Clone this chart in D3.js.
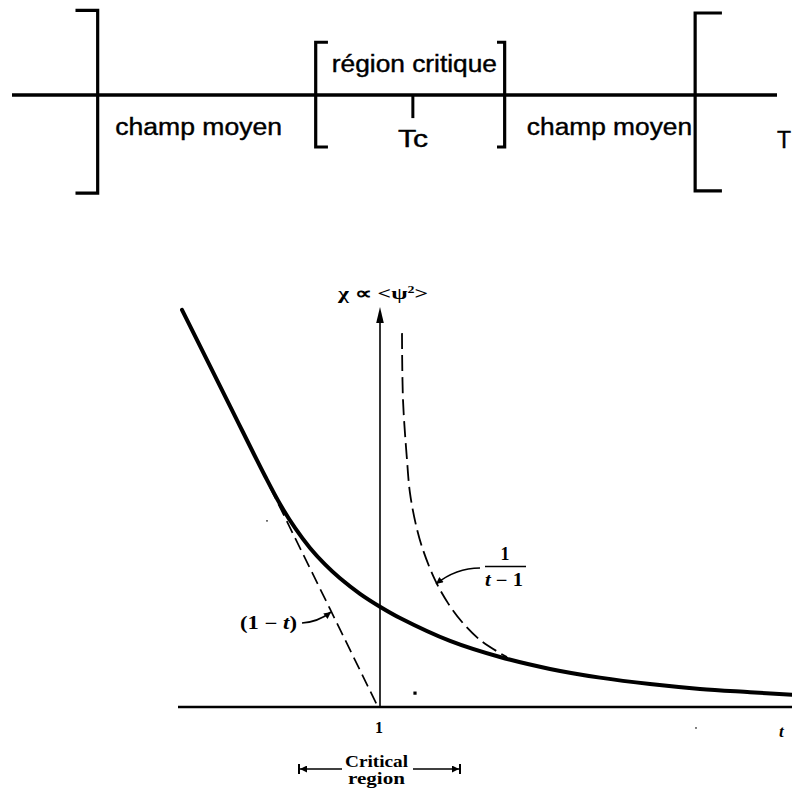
<!DOCTYPE html>
<html><head><meta charset="utf-8">
<script src="https://cdn.jsdelivr.net/npm/d3@7"></script>
<style>html,body{margin:0;padding:0;background:#fff;} svg{display:block}</style>
</head><body>
<script>
// ---------- top schematic band (temperature axis, arbitrary units) ----------
const bandDomain = [0, 10];
const bracketPositions = [1.12, 3.97, 6.44, 8.93];
const bracketKinds = ["]", "[", "]", "["];
const bracketUp = [2.2, 1.37, 1.37, 2.13];
const bracketDown = [2.55, 1.35, 1.35, 2.49];
const bracketTick = [0.29, 0.16, 0.10, 0.35];
const tcPosition = 5.24;
const tcTickDown = 0.6;
const regionLabels = ["champ moyen", "région critique", "champ moyen"];
const regionCenters = [2.44, 5.26, 7.81];
const regionLevels = [-1.04, 0.6, -1.04];
const regionWidths = [2.18, 2.16, 2.16];

// ---------- bottom chart: susceptibility vs reduced temperature t ----------
const tDomain = [-0.01, 3.06];
const chiDomain = [0, 12.4];
const solidT   = [0.01, 0.25, 0.425, 0.50, 0.575, 0.65, 0.725, 0.80, 0.90, 1.00, 1.10, 1.35, 1.60, 1.85, 2.10, 2.35, 2.60, 2.85, 3.06];
const solidChi = [12.31, 9.33, 7.16, 6.29, 5.55, 4.93, 4.42, 3.99, 3.51, 3.11, 2.76, 2.05, 1.55, 1.18, 0.91, 0.71, 0.56, 0.46, 0.38];
const meanFieldBelowT   = [0.45, 0.75, 0.99];
const meanFieldBelowChi = [6.82, 3.04, 0.0];
const meanFieldAboveT   = [1.11, 1.115, 1.135, 1.15, 1.18, 1.215, 1.275, 1.34, 1.415, 1.50, 1.60, 1.635];
const meanFieldAboveChi = [11.59, 9.52, 7.66, 6.63, 5.64, 4.87, 3.94, 3.22, 2.60, 2.08, 1.67, 1.55];
const criticalRegion = [0.595, 1.40];
const tickValues = [1];
const speckT = [1.175, 0.435, 2.58];
const speckChi = [0.43, 5.77, -0.65];

const W = 792, H = 791;
const svg = d3.select("body").append("svg").attr("width", W).attr("height", H);

// ---- top band ----
const bx = d3.scaleLinear().domain(bandDomain).range([12, 777]);
const by = d3.scaleLinear().domain([-1, 1]).range([95 + 38.5, 95 - 38.5]);
const bandG = svg.append("g");
bandG.append("line").attr("x1", bx(bandDomain[0])).attr("x2", bx(bandDomain[1]))
  .attr("y1", by(0)).attr("y2", by(0)).attr("stroke", "#000").attr("stroke-width", 3.3);

bracketPositions.forEach((p, i) => {
  const xx = bx(p), dir = bracketKinds[i] === "[" ? 1 : -1;
  const tl = bx(p + bracketTick[i]) - bx(p);
  const y1 = by(bracketUp[i]), y2 = by(-bracketDown[i]);
  bandG.append("path")
    .attr("d", `M${xx + dir * tl},${y1} L${xx},${y1} L${xx},${y2} L${xx + dir * tl},${y2}`)
    .attr("fill", "none").attr("stroke", "#000").attr("stroke-width", 3.2)
    .attr("stroke-linejoin", "miter");
});
bandG.append("line").attr("x1", bx(tcPosition)).attr("x2", bx(tcPosition))
  .attr("y1", by(0)).attr("y2", by(-tcTickDown)).attr("stroke", "#000").attr("stroke-width", 3);

const sansFont = "'Liberation Sans', Arial, Helvetica, sans-serif";
regionLabels.forEach((lab, i) => {
  const w = bx(regionWidths[i]) - bx(0);
  bandG.append("text").attr("x", bx(regionCenters[i]) - w / 2).attr("y", by(regionLevels[i]))
    .attr("font-family", sansFont).attr("font-size", 23)
    .attr("textLength", w).attr("lengthAdjust", "spacingAndGlyphs")
    .attr("stroke", "#000").attr("stroke-width", 0.4)
    .text(lab);
});
bandG.append("text").attr("x", 398).attr("y", 147)
  .attr("font-family", sansFont).attr("font-size", 23)
  .attr("textLength", 30).attr("lengthAdjust", "spacingAndGlyphs")
  .attr("stroke", "#000").attr("stroke-width", 0.4)
  .text("Tc");
bandG.append("text").attr("x", 777).attr("y", 148)
  .attr("font-family", sansFont).attr("font-size", 23)
  .attr("stroke", "#000").attr("stroke-width", 0.4)
  .text("T");

// ---- bottom chart ----
const x = d3.scaleLinear().domain(tDomain).range([178, 792]);
const y = d3.scaleLinear().domain(chiDomain).range([707, 307]);
const serif = "'Liberation Serif', 'Times New Roman', Times, serif";
const g = svg.append("g");

// x axis line
g.append("line").attr("x1", x(tDomain[0])).attr("x2", x(tDomain[1]))
  .attr("y1", y(0)).attr("y2", y(0)).attr("stroke", "#000").attr("stroke-width", 2.5);
// y axis (at t=1) with arrow
g.append("line").attr("x1", x(1)).attr("x2", x(1)).attr("y1", y(0)).attr("y2", y(chiDomain[1]) + 8)
  .attr("stroke", "#000").attr("stroke-width", 1.6);
g.append("path")
  .attr("d", `M${x(1)},${y(chiDomain[1])} L${x(1) - 3.8},${y(chiDomain[1]) + 16} L${x(1) + 3.8},${y(chiDomain[1]) + 16} Z`)
  .attr("fill", "#000");

// axis tick labels
tickValues.forEach(v => {
  g.append("text").attr("x", x(v) - 1).attr("y", y(0) + 26).attr("text-anchor", "middle")
    .attr("font-family", serif).attr("font-size", 16).attr("font-weight", "bold").text(String(v));
});
g.append("text").attr("x", 779).attr("y", 737).attr("font-family", serif)
  .attr("font-size", 17).attr("font-style", "italic").attr("font-weight", "bold").text("t");

// y axis title
const yt = g.append("text").attr("x", 338).attr("y", 299).attr("font-family", serif)
  .attr("font-size", 17).attr("font-weight", "bold")
  .attr("textLength", 90).attr("lengthAdjust", "spacingAndGlyphs");
yt.append("tspan").text("χ ∝ <ψ");
yt.append("tspan").attr("dy", -6).attr("font-size", 10).text("2");
yt.append("tspan").attr("dy", 6).text(">");

const line = d3.line().x(d => x(d[0])).y(d => y(d[1])).curve(d3.curveCatmullRom.alpha(0.5));

// solid curve
g.append("path").datum(d3.zip(solidT, solidChi)).attr("d", line)
  .attr("fill", "none").attr("stroke", "#000").attr("stroke-width", 4).attr("stroke-linecap", "round");
// dashed mean field (1 - t)
g.append("path").datum(d3.zip(meanFieldBelowT, meanFieldBelowChi))
  .attr("d", d3.line().x(d => x(d[0])).y(d => y(d[1])))
  .attr("fill", "none").attr("stroke", "#000").attr("stroke-width", 1.7).attr("stroke-dasharray", "13,6");
// dashed mean field 1/(t-1)
g.append("path").datum(d3.zip(meanFieldAboveT, meanFieldAboveChi)).attr("d", line)
  .attr("fill", "none").attr("stroke", "#000").attr("stroke-width", 1.8).attr("stroke-dasharray", "16,6");

// specks of the printed figure
speckT.forEach((t, i) => {
  const s = i === 0 ? 3.2 : 1.4;
  g.append("rect").attr("x", x(t) - s / 2).attr("y", y(speckChi[i]) - s / 2)
    .attr("width", s).attr("height", s).attr("fill", "#000");
});

// arrowhead marker
const defs = svg.append("defs");
defs.append("marker").attr("id", "ah").attr("viewBox", "0 0 10 10").attr("refX", 10).attr("refY", 5)
  .attr("markerWidth", 10).attr("markerHeight", 7).attr("markerUnits", "userSpaceOnUse")
  .attr("orient", "auto").append("path").attr("d", "M0,0 L10,5 L0,10 Z").attr("fill", "#000");

// (1 - t) label and arrow
g.append("text").attr("x", 240).attr("y", 629)
  .attr("font-family", serif).attr("font-size", 18).attr("font-weight", "bold")
  .attr("textLength", 57).attr("lengthAdjust", "spacingAndGlyphs")
  .html("(1 − <tspan font-style='italic'>t</tspan>)");
g.append("path").attr("d", "M302,623 Q318,622 331,612").attr("fill", "none")
  .attr("stroke", "#000").attr("stroke-width", 1.6).attr("marker-end", "url(#ah)");

// 1/(t-1) label and arrow
g.append("text").attr("x", 505).attr("y", 560).attr("text-anchor", "middle")
  .attr("font-family", serif).attr("font-size", 18).attr("font-weight", "bold").text("1");
g.append("line").attr("x1", 485).attr("x2", 526).attr("y1", 566.5).attr("y2", 566.5)
  .attr("stroke", "#000").attr("stroke-width", 1.4);
g.append("text").attr("x", 485).attr("y", 586)
  .attr("font-family", serif).attr("font-size", 18).attr("font-weight", "bold")
  .attr("textLength", 38).attr("lengthAdjust", "spacingAndGlyphs")
  .html("<tspan font-style='italic'>t</tspan> − 1");
g.append("path").attr("d", "M480,568 Q456,568 436,584").attr("fill", "none")
  .attr("stroke", "#000").attr("stroke-width", 1.6).attr("marker-end", "url(#ah)");

// critical region indicator
const cy = 769;
const [c0, c1] = criticalRegion.map(x);
g.append("line").attr("x1", c0).attr("x2", c0).attr("y1", cy - 5).attr("y2", cy + 5).attr("stroke", "#000").attr("stroke-width", 2);
g.append("line").attr("x1", c1).attr("x2", c1).attr("y1", cy - 5).attr("y2", cy + 5).attr("stroke", "#000").attr("stroke-width", 2);
g.append("line").attr("x1", 342).attr("x2", c0 + 1).attr("y1", cy).attr("y2", cy)
  .attr("stroke", "#000").attr("stroke-width", 1.5).attr("marker-end", "url(#ah)");
g.append("line").attr("x1", 413).attr("x2", c1 - 1).attr("y1", cy).attr("y2", cy)
  .attr("stroke", "#000").attr("stroke-width", 1.5).attr("marker-end", "url(#ah)");
g.append("text").attr("x", 345).attr("y", 767).attr("font-family", serif).attr("font-size", 16)
  .attr("font-weight", "bold").attr("textLength", 63).attr("lengthAdjust", "spacingAndGlyphs").text("Critical");
g.append("text").attr("x", 348).attr("y", 784).attr("font-family", serif).attr("font-size", 16)
  .attr("font-weight", "bold").attr("textLength", 57).attr("lengthAdjust", "spacingAndGlyphs").text("region");
</script>
</body></html>
